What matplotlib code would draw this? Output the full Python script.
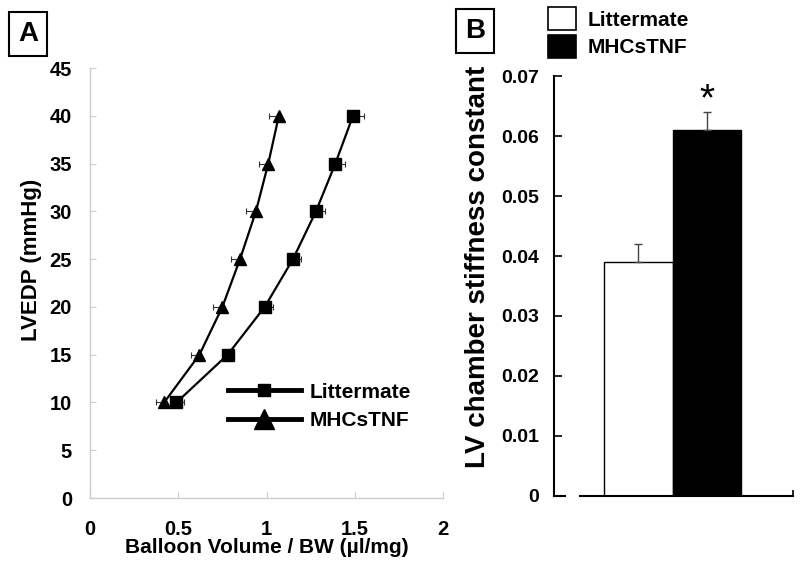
import matplotlib
matplotlib.use('Agg')
import matplotlib.pyplot as plt
from matplotlib.lines import Line2D
from matplotlib.patches import Patch

plt.rcParams['font.family'] = ['Liberation Sans', 'DejaVu Sans']
plt.rcParams['font.weight'] = 'bold'

# Panel A data: pressure-volume points
lvedp = [10, 15, 20, 25, 30, 35, 40]
vol_litter = [0.49, 0.78, 0.99, 1.15, 1.28, 1.39, 1.49]
err_litter = [0.04, 0.02, 0.047, 0.047, 0.053, 0.057, 0.06]
vol_tnf = [0.42, 0.62, 0.75, 0.85, 0.94, 1.01, 1.07]
err_tnf = [0.047, 0.045, 0.053, 0.051, 0.057, 0.053, 0.058]

# Panel B data: stiffness constant
groups = ['Littermate', 'MHCsTNF']
stiffness = [0.039, 0.061]
stiff_err = [0.003, 0.003]
bar_colors = ['white', 'black']

fig = plt.figure(figsize=(8, 5.66), dpi=100)

#Panel A
axA = fig.add_axes([0.1125, 0.1201, 0.44125, 0.7597])
zeros = [0] * len(lvedp)
axA.errorbar(vol_litter, lvedp, xerr=[zeros, err_litter], fmt='none',
             ecolor='#333333', elinewidth=0.8, capsize=2, capthick=0.8, zorder=1)
axA.errorbar(vol_tnf, lvedp, xerr=[err_tnf, zeros], fmt='none',
             ecolor='#333333', elinewidth=0.8, capsize=2, capthick=0.8, zorder=1)
axA.plot(vol_litter, lvedp, color='black', lw=1.6, marker='s', markersize=8, zorder=2)
axA.plot(vol_tnf, lvedp, color='black', lw=1.6, marker='^', markersize=9, zorder=2)

axA.set_xlim(0, 2)
axA.set_ylim(0, 45)
axA.set_xticks([0, 0.5, 1, 1.5, 2])
axA.set_xticklabels(['0', '0.5', '1', '1.5', '2'])
axA.set_yticks(range(0, 46, 5))
for s in ['top', 'right']:
    axA.spines[s].set_visible(False)
for s in ['left', 'bottom']:
    axA.spines[s].set_color('#cccccc')
    axA.spines[s].set_linewidth(1)
axA.tick_params(axis='both', direction='in', length=4, color='#cccccc', labelsize=14.5)
axA.tick_params(axis='y', pad=13)
axA.tick_params(axis='x', pad=16)
axA.set_xlabel('Balloon Volume / BW (µl/mg)', fontsize=15, fontweight='bold', labelpad=-1)
#y label sits above the axis centre in the original
fig.text(31.5 / 800, 1 - 260 / 566, 'LVEDP (mmHg)', rotation=90,
         ha='center', va='center', fontsize=16, fontweight='bold')

handlesA = [Line2D([], [], color='black', lw=3.5, marker='s', markersize=9),
            Line2D([], [], color='black', lw=3.5, marker='^', markersize=14)]
axA.legend(handlesA, ['Littermate', 'MHCsTNF'], loc='upper left',
           bbox_to_anchor=(0.391, 0.268), frameon=False, fontsize=15,
           handlelength=3.5, handletextpad=0.4, labelspacing=0.45,
           borderpad=0, borderaxespad=0)

#Panel B
axB = fig.add_axes([0.6929, 0.1237, 0.2984, 0.742])
xpos = range(len(groups))
axB.bar(xpos, stiffness, width=1.0, color=bar_colors, edgecolor='black', linewidth=1.0)
axB.errorbar(xpos, stiffness, yerr=[[0, 0], stiff_err], fmt='none',
             ecolor='#444444', elinewidth=1.0, capsize=3, capthick=1.0)
axB.text(1, stiffness[1] + stiff_err[1] + 0.002, '*', ha='center', va='center',
         fontsize=28, fontweight='normal')

axB.set_xlim(-1.223, 2.252)
axB.set_ylim(0, 0.07)
axB.set_yticks([0, 0.01, 0.02, 0.03, 0.04, 0.05, 0.06, 0.07])
axB.set_yticklabels(['0', '0.01', '0.02', '0.03', '0.04', '0.05', '0.06', '0.07'])
axB.set_xticks([2.252])
axB.set_xticklabels([''])
for s in ['top', 'right']:
    axB.spines[s].set_visible(False)
axB.spines['left'].set_linewidth(1.5)
axB.spines['bottom'].set_linewidth(1.5)
axB.spines['bottom'].set_bounds(-0.849, 2.252)
axB.axhline(0, xmin=0, xmax=0.046, color='black', lw=1.5, clip_on=False)
axB.tick_params(axis='y', direction='in', length=6, width=1.2, labelsize=14, pad=11)
axB.tick_params(axis='x', direction='in', length=4, width=1.2)

fig.text(478 / 800, 1 - 267 / 566, 'LV chamber stiffness constant', rotation=90,
         ha='center', va='center', fontsize=20, fontweight='bold')

handlesB = [Patch(facecolor='white', edgecolor='black', linewidth=1.2),
            Patch(facecolor='black', edgecolor='black', linewidth=1.2)]
fig.legend(handlesB, groups, loc='upper left', bbox_to_anchor=(0.685, 0.9876),
           frameon=False, fontsize=15, handlelength=1.35, handleheight=1.35,
           handletextpad=0.55, labelspacing=0.2, borderpad=0, borderaxespad=0)

# Panel letters
fig.text(28 / 800, 1 - 34 / 566, 'A', ha='center', va='center', fontsize=20,
         fontweight='bold',
         bbox=dict(boxstyle='square,pad=0.32', facecolor='white', edgecolor='black', lw=1.5))
fig.text(475 / 800, 1 - 31 / 566, 'B', ha='center', va='center', fontsize=20,
         fontweight='bold',
         bbox=dict(boxstyle='square,pad=0.32', facecolor='white', edgecolor='black', lw=1.5))

fig.savefig('out.png', dpi=100)
